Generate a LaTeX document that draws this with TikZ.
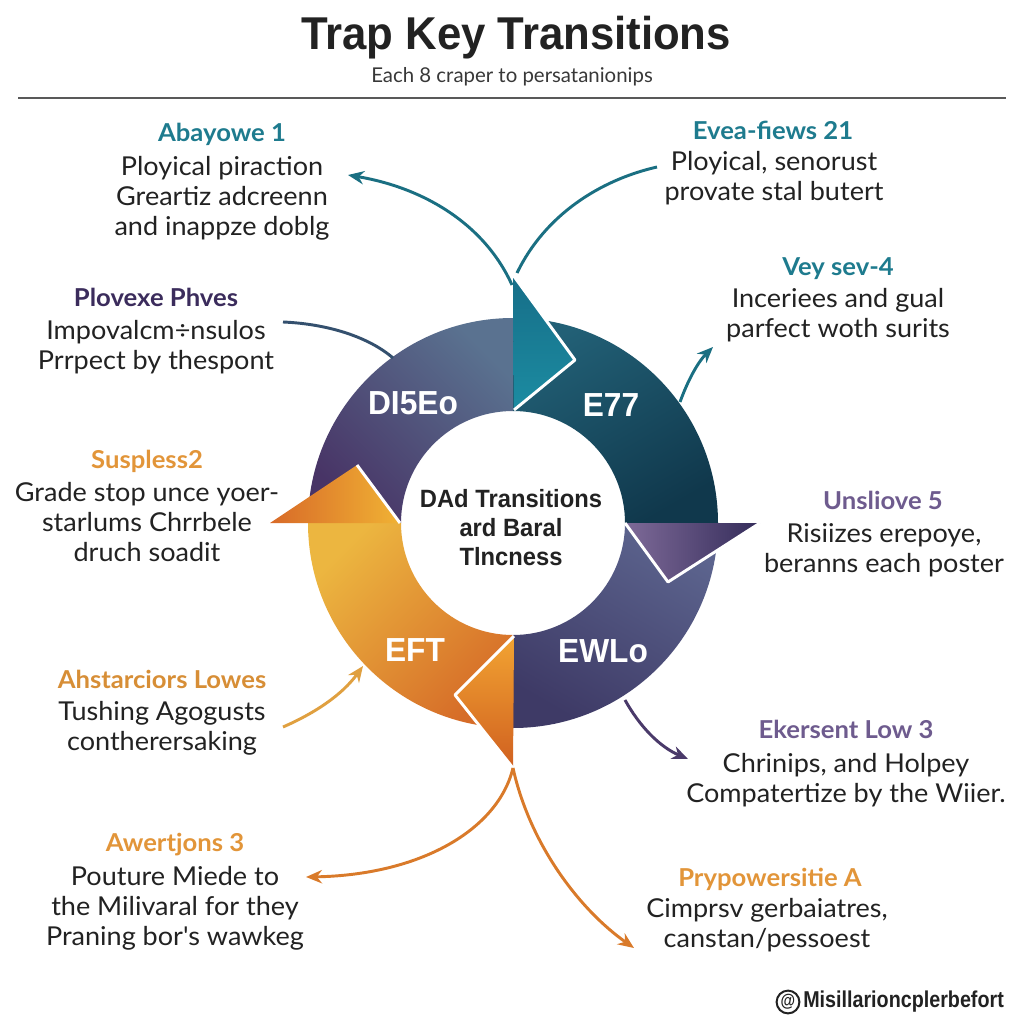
\documentclass[tikz,border=0pt]{standalone}
\usepackage{fontspec}
\setmainfont{Lato}
\newfontfamily\bodyfont[FakeStretch=1.04]{Lato}
\newfontfamily\condfont[FakeStretch=0.86]{Liberation Sans}
\newfontfamily\titlefont[FakeStretch=0.95]{Liberation Sans}
\usetikzlibrary{arrows.meta}
\definecolor{tealhd}{HTML}{1E7B8E}
\definecolor{purdk}{HTML}{3B2C5C}
\definecolor{purlt}{HTML}{6E5B8E}
\definecolor{orhd}{HTML}{E29539}
\definecolor{txt}{HTML}{222222}
\definecolor{tealln}{HTML}{1A6F82}
\definecolor{slateln}{HTML}{34506E}
\definecolor{orln}{HTML}{E0A040}
\definecolor{orln2}{HTML}{D97A2A}
\definecolor{purln}{HTML}{4A3A6A}
\definecolor{qTLa}{RGB}{90,114,144}
\definecolor{qTLb}{RGB}{72,52,102}
\definecolor{qTRa}{RGB}{34,96,118}
\definecolor{qTRb}{RGB}{16,56,76}
\definecolor{qBRa}{RGB}{92,100,142}
\definecolor{qBRb}{RGB}{62,58,102}
\definecolor{qBLa}{RGB}{236,182,64}
\definecolor{qBLb}{RGB}{214,108,40}
\definecolor{tTa}{RGB}{22,110,136}
\definecolor{tTb}{RGB}{28,140,162}
\definecolor{tLa}{RGB}{216,106,40}
\definecolor{tLb}{RGB}{240,178,52}
\definecolor{tRa}{RGB}{126,106,152}
\definecolor{tRb}{RGB}{52,44,90}
\definecolor{tBa}{RGB}{242,164,50}
\definecolor{tBb}{RGB}{208,96,32}
\begin{document}
\begin{tikzpicture}[x=0.75pt,y=-0.75pt,
  hd/.style={font=\bodyfont\fontsize{18.5}{22}\selectfont\bfseries, anchor=base, inner sep=0pt},
  bd/.style={font=\bodyfont\fontsize{19.5}{22.5}\selectfont, align=center, text=txt, anchor=base, inner sep=0pt},
  ringlbl/.style={font=\titlefont\bfseries\fontsize{25}{28}\selectfont, text=white, inner sep=0pt},
  conn/.style={line width=2.2pt, -{Stealth[length=12pt,width=10pt]}},
  plain/.style={line width=2.2pt},
  edge/.style={draw=white, line width=2.2pt, line join=round}
]
\useasboundingbox (0,0) rectangle (1024,1024);
\fill[white] (0,0) rectangle (1024,1024);

% title
\node[anchor=base, inner sep=0pt, text=txt, font=\titlefont\bfseries\fontsize{34.5}{40}\selectfont] (title) at (516,50) {Trap Key Transitions};
\node[anchor=base, inner sep=0pt, text=txt!90, font=\fontsize{15.3}{18}\selectfont] (subtitle) at (512,83) {Each 8 craper to persatanionips};
\coordinate (ruleL) at (18,98);
\coordinate (ruleR) at (1006,98);
\draw[line width=1.9pt, color=black!65] (ruleL) -- (ruleR);

\coordinate (c) at (513,523);
% quadrants
\shade[shading=axis, top color=qTLa, bottom color=qTLb, shading angle=-45]
  ([shift={(180:205)}]c) arc[start angle=180, end angle=270, radius=205] -- ([shift={(270:112)}]c) arc[start angle=270, end angle=180, radius=112] -- cycle;
\shade[shading=axis, top color=qTRa, bottom color=qTRb, shading angle=30]
  ([shift={(270:205)}]c) arc[start angle=270, end angle=360, radius=205] -- ([shift={(0:112)}]c) arc[start angle=360, end angle=270, radius=112] -- cycle;
\shade[shading=axis, top color=qBRa, bottom color=qBRb, shading angle=-30]
  ([shift={(0:205)}]c) arc[start angle=0, end angle=90, radius=205] -- ([shift={(90:112)}]c) arc[start angle=90, end angle=0, radius=112] -- cycle;
\shade[shading=axis, top color=qBLa, bottom color=qBLb, shading angle=45]
  ([shift={(90:205)}]c) arc[start angle=90, end angle=180, radius=205] -- ([shift={(180:112)}]c) arc[start angle=180, end angle=90, radius=112] -- cycle;

% triangles
\coordinate (tT1) at (513,275); \coordinate (tT2) at (575,360); \coordinate (tT3) at (514,410);
\shade[shading=axis, top color=tTa, bottom color=tTb, shading angle=0] (tT1) -- (tT2) -- (tT3) -- cycle;
\draw[edge] (tT1) -- (tT2) -- (tT3);

\coordinate (tL1) at (270,523); \coordinate (tL2) at (357,465); \coordinate (tL3) at (400,523);
\shade[shading=axis, left color=tLa, right color=tLb] (tL1) -- (tL2) -- (tL3) -- cycle;
\draw[edge] (tL2) -- (tL3);

\coordinate (tR1) at (625,523); \coordinate (tR2) at (760,523); \coordinate (tR3) at (668,582);
\shade[shading=axis, left color=tRa, right color=tRb] (tR1) -- (tR2) -- (tR3) -- cycle;
\draw[edge] (tR1) -- (tR3) -- (tR2);

\coordinate (tB1) at (514,636); \coordinate (tB2) at (455,695); \coordinate (tB3) at (513,768);
\shade[shading=axis, top color=tBa, bottom color=tBb] (tB1) -- (tB2) -- (tB3) -- cycle;
\draw[edge] (tB1) -- (tB2) -- (tB3);

% ring labels
\node[ringlbl] (q1) at (413,403) {DI5Eo};
\node[ringlbl] (q2) at (611,405) {E77};
\node[ringlbl] (q3) at (415,650) {EFT};
\node[ringlbl] (q4) at (603,651) {EWLo};

% centre text
\node[anchor=base, inner sep=0pt, align=center, text=txt, font=\titlefont\bfseries\fontsize{18.75}{21.4}\selectfont] (centre) at (511,565) {DAd Transitions\\ard Baral\\Tlncness};

% text blocks
\node[hd, text=tealhd] (h1) at (222,141) {Abayowe 1};
\node[bd] (b1) at (222,235) {Ployical piraction\\Greartiz adcreenn\\and inappze doblg};
\node[hd, text=purdk] (h2) at (156,306) {Plovexe Phves};
\node[bd] (b2) at (156,369) {Impovalcm÷nsulos\\Prrpect by thespont};
\node[hd, text=orhd] (h3) at (147,468) {Suspless2};
\node[bd] (b3) at (147,561) {Grade stop unce yoer-\\starlums Chrrbele\\druch soadit};
\node[hd, text=orhd!95!black] (h4) at (162,688) {Ahstarciors Lowes};
\node[bd] (b4) at (162,750) {Tushing Agogusts\\contherersaking};
\node[hd, text=orhd] (h5) at (175,851) {Awertjons 3};
\node[bd] (b5) at (175,945) {Pouture Miede to\\the Milivaral for they\\Praning bor's wawkeg};
\node[hd, text=tealhd] (h6) at (773,139) {Evea-fiews 21};
\node[bd] (b6) at (774,200) {Ployical, senorust\\provate stal butert};
\node[hd, text=tealhd] (h7) at (838,275) {Vey sev-4};
\node[bd] (b7) at (838,337) {Inceriees and gual\\parfect woth surits};
\node[hd, text=purlt] (h8) at (883,509) {Unsliove 5};
\node[bd] (b8) at (884,572) {Risiizes erepoye,\\beranns each poster};
\node[hd, text=purlt] (h9) at (846,738) {Ekersent Low 3};
\node[bd] (b9) at (846,802) {Chrinips, and Holpey\\Compatertize by the Wiier.};
\node[hd, text=orhd] (h10) at (770,886) {Prypowersitie A};
\node[bd] (b10) at (767,947) {Cimprsv gerbaiatres,\\canstan/pessoest};

% watermark
\node[draw=txt, circle, line width=1.5pt, inner sep=0.5pt, text=txt, font=\condfont\bfseries\fontsize{13}{15}\selectfont] (wmat) at (788,1002) {@};
\node[anchor=west, inner sep=0pt, text=txt, font=\condfont\bfseries\fontsize{17.2}{19}\selectfont] (wm) at (803,1002) {Misillarioncplerbefort};

% connectors
\coordinate (a1s) at (512,285); \coordinate (a1e) at (348,175);
\draw[conn, tealln] (a1s) .. controls (485,225) and (425,188) .. (a1e);
\coordinate (a2s) at (517,273); \coordinate (a2e) at (657,167);
\draw[plain, tealln] (a2s) .. controls (545,215) and (600,180) .. (a2e);
\coordinate (a3s) at (283,322); \coordinate (a3e) at (393,358);
\draw[plain, slateln] (a3s) .. controls (330,324) and (370,338) .. (a3e);
\coordinate (a4s) at (680,402); \coordinate (a4e) at (713,347);
\draw[conn, tealln] (a4s) .. controls (688,380) and (698,362) .. (a4e);
\coordinate (a5s) at (283,727); \coordinate (a5e) at (363,666);
\draw[conn, orln] (a5s) .. controls (315,713) and (342,695) .. (a5e);
\coordinate (a6s) at (625,700); \coordinate (a6e) at (688,759);
\draw[conn, purln] (a6s) .. controls (640,727) and (660,747) .. (a6e);
\coordinate (a7e) at (306,877);
\draw[conn, orln2] (tB3) .. controls (498,830) and (420,875) .. (a7e);
\coordinate (a8e) at (634,948);
\draw[conn, orln2] (tB3) .. controls (530,845) and (580,910) .. (a8e);
\end{tikzpicture}
\end{document}
